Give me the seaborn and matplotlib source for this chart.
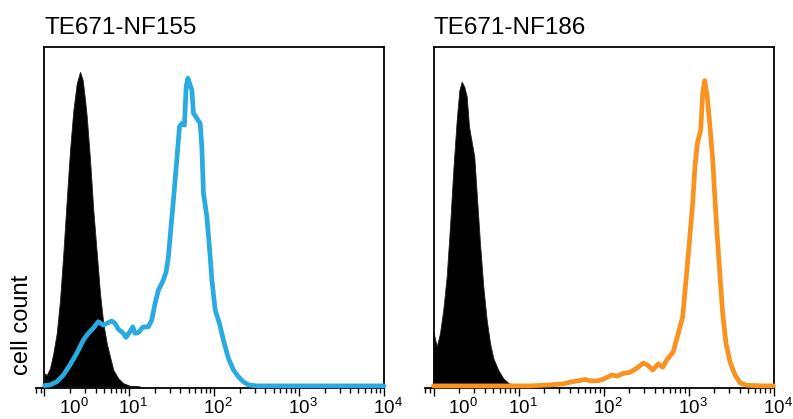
import numpy as np
import pandas as pd
import matplotlib
matplotlib.use("Agg")
import matplotlib.pyplot as plt
import matplotlib.transforms as mtransforms
from matplotlib.ticker import FixedLocator, LogLocator, NullFormatter
import seaborn as sns

# ---------------- data ----------------
titles = ["TE671-NF155", "TE671-NF186"]
tick_values = [1, 10, 100, 1000, 10000]
tick_labels = [r"$10^{0}$", r"$10^{1}$", r"$10^{2}$", r"$10^{3}$", r"$10^{4}$"]
y_label = "cell count"

# isotype / control histograms (log10 intensity, relative cell count)
ctrl155_log = [0.0, 0.026, 0.065, 0.104, 0.144, 0.183, 0.222, 0.262, 0.301, 0.340,
               0.380, 0.419, 0.450, 0.478, 0.498, 0.537, 0.575, 0.616, 0.654, 0.693,
               0.733, 0.772, 0.811, 0.870, 0.929, 1.008, 1.126]
ctrl155_count = [3.9, 3.4, 5.4, 9.8, 15.7, 25.5, 39.3, 55.0, 69.7, 81.4,
                 89.3, 92.7, 90.3, 84.4, 79.5, 66.7, 52.0, 39.3, 27.5, 18.6,
                 12.8, 8.8, 4.9, 2.4, 1.0, 0.2, 0.0]

nf155_log = [0.0, 0.065, 0.144, 0.222, 0.301, 0.380, 0.458, 0.517, 0.575, 0.634,
             0.693, 0.733, 0.792, 0.831, 0.870, 0.929, 0.961, 1.008, 1.040, 1.067,
             1.106, 1.158, 1.224, 1.264, 1.303, 1.342, 1.401, 1.433, 1.460, 1.480,
             1.519, 1.559, 1.590, 1.618, 1.649, 1.669, 1.689, 1.716, 1.736, 1.755,
             1.795, 1.834, 1.854, 1.873, 1.913, 1.943, 1.972, 2.011, 2.061, 2.108,
             2.167, 2.226, 2.285, 2.344, 2.403, 2.502, 3.0, 4.0]
nf155_count = [0.3, 0.5, 1.4, 3.4, 6.4, 9.8, 13.7, 15.7, 17.2, 19.1,
               18.1, 18.6, 19.3, 18.6, 16.9, 15.7, 14.5, 16.2, 17.6, 15.7,
               15.9, 17.5, 17.6, 19.6, 24.5, 28.4, 31.4, 33.8, 38.2, 44.1,
               54.9, 66.7, 76.5, 77.5, 77.0, 88.3, 90.8, 88.8, 87.3, 80.5,
               79.0, 77.5, 70.6, 56.9, 50.0, 41.2, 31.4, 22.6, 18.6, 13.7,
               8.3, 4.9, 2.9, 1.4, 0.5, 0.2, 0.2, 0.2]

ctrl186_log = [0.0, 0.038, 0.076, 0.115, 0.155, 0.194, 0.233, 0.273, 0.304, 0.332,
               0.362, 0.391, 0.418, 0.449, 0.480, 0.508, 0.547, 0.586, 0.626, 0.665,
               0.704, 0.762, 0.821, 0.880, 0.939, 0.998, 1.135]
ctrl186_count = [16.0, 11.8, 15.7, 22.6, 32.4, 47.1, 63.8, 78.5, 87.3, 89.8,
                 88.3, 85.4, 76.5, 72.1, 67.7, 56.9, 42.2, 29.4, 19.6, 12.8,
                 8.3, 4.9, 2.4, 1.1, 0.5, 0.2, 0.0]

nf186_log = [0.0, 1.135, 1.371, 1.527, 1.626, 1.704, 1.782, 1.841, 1.939, 2.018,
             2.096, 2.162, 2.233, 2.312, 2.391, 2.468, 2.515, 2.579, 2.645, 2.696,
             2.744, 2.821, 2.880, 2.932, 2.971, 3.009, 3.049, 3.076, 3.104, 3.144,
             3.167, 3.191, 3.221, 3.253, 3.285, 3.312, 3.339, 3.371, 3.402, 3.441,
             3.488, 3.547, 3.606, 3.685, 3.876, 4.0]
nf186_count = [0.2, 0.2, 0.5, 0.8, 1.4, 1.7, 2.1, 1.7, 1.7, 2.4,
               3.4, 3.1, 3.9, 4.2, 5.4, 6.9, 6.4, 4.9, 6.7, 5.7,
               7.8, 10.3, 15.7, 20.6, 31.4, 42.2, 54.0, 64.8, 71.6, 75.6,
               86.4, 90.1, 85.4, 76.5, 66.7, 54.9, 44.1, 32.4, 21.6, 12.8,
               7.3, 3.4, 1.1, 0.4, 0.2, 0.2]

line_colors = ["#29ABE2", "#F7931E"]

# ---------------- style ----------------
sns.set_style("ticks")
plt.rcParams["font.family"] = ["Liberation Sans", "DejaVu Sans"]
plt.rcParams["mathtext.fontset"] = "custom"
plt.rcParams["mathtext.rm"] = "Liberation Sans"
plt.rcParams["mathtext.it"] = "Liberation Sans:italic"
plt.rcParams["mathtext.bf"] = "Liberation Sans:bold"

W, H = 793, 419
fig = plt.figure(figsize=(W / 100, H / 100), dpi=100)

panels = [
    (ctrl155_log, ctrl155_count, nf155_log, nf155_count),
    (ctrl186_log, ctrl186_count, nf186_log, nf186_count),
]
axes_left_px = [36.0, 425.0]
axes_width_px = [348.0, 348.5]
top_px, bottom_px = 47.0, 388.0

for i, (clog, ccnt, slog, scnt) in enumerate(panels):
    ax = fig.add_axes([axes_left_px[i] / W, (H - bottom_px) / H,
                       axes_width_px[i] / W, (bottom_px - top_px) / H])
    ax.set_xscale("log")

    ctrl = pd.DataFrame({"x": 10 ** np.array(clog), "y": ccnt})
    samp = pd.DataFrame({"x": 10 ** np.array(slog), "y": scnt})

    ax.fill_between(ctrl["x"], 0, ctrl["y"], color="black", linewidth=0.6,
                    edgecolor="#222222", zorder=2)
    sns.lineplot(data=samp, x="x", y="y", ax=ax, color=line_colors[i],
                 linewidth=3.4, estimator=None, sort=False, zorder=3)
    ln = ax.lines[-1]
    ln.set_clip_on(False)
    ln.set_solid_joinstyle("round")
    ln.set_solid_capstyle("round")

    ax.set_xlim(10 ** -0.1, 1e4)
    ax.set_ylim(-0.42, 100)
    ax.set_xlabel("")
    ax.set_ylabel("")
    ax.set_yticks([])

    for s in ax.spines.values():
        s.set_linewidth(1.3)
        s.set_color("black")
        s.set_visible(True)
    ax.spines["left"].set_position(("data", 1))
    ax.spines["top"].set_bounds(1, 1e4)

    ax.xaxis.set_major_locator(FixedLocator(tick_values))
    ax.set_xticklabels(tick_labels)
    ax.xaxis.set_minor_locator(LogLocator(base=10, subs=np.arange(2, 10), numticks=20))
    ax.xaxis.set_minor_formatter(NullFormatter())
    ax.tick_params(axis="x", which="major", direction="out", length=6, width=1.0,
                   labelsize=13.5, pad=1, color="black", labelcolor="black")
    ax.tick_params(axis="x", which="minor", direction="out", length=3.6, width=1.0,
                   color="black")

    for k, lab in enumerate(ax.get_xticklabels()):
        dx = 29 if k == 0 else 4
        lab.set_transform(lab.get_transform() +
                          mtransforms.ScaledTranslation(dx / 100, 0, fig.dpi_scale_trans))

    trans = mtransforms.blended_transform_factory(ax.transData, ax.transAxes)
    ax.text(1.0, 1 + 13 / (bottom_px - top_px), titles[i], transform=trans,
            ha="left", va="baseline", fontsize=17.5, color="black")

fig.text(22 / W, (H - 325) / H, y_label, rotation=90, ha="center", va="center",
         fontsize=17, color="black")

fig.savefig("out.png", dpi=100)
